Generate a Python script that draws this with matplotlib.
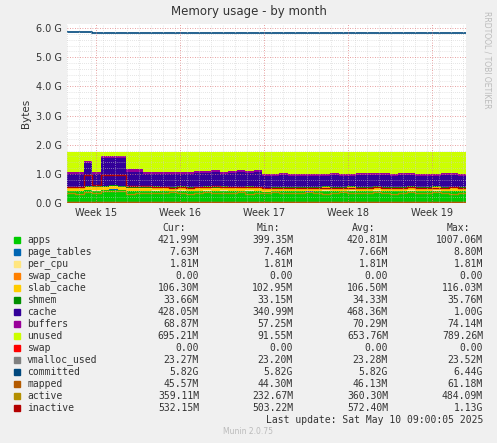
import matplotlib
matplotlib.use("Agg")
import matplotlib.pyplot as plt
import numpy as np

# data (G bytes), 48 samples across the month
used_top = [1.05,1.05,1.45,1.05,1.6,1.6,1.6,1.15,1.15,1.05,1.07,1.05,1.08,1.08,1.05,1.1,1.1,1.12,1.05,1.1,1.12,1.1,1.12,1.0,1.0,1.02,0.98,1.0,0.98,0.99,1.0,1.02,1.0,0.98,1.03,1.02,1.04,1.02,1.0,1.03,1.02,1.0,1.0,1.01,1.02,1.03,1.0,1.02]
apps = [0.40,0.40,0.43,0.42,0.45,0.46,0.44,0.40,0.41,0.40,0.42,0.41,0.40,0.42,0.41,0.40,0.42,0.41,0.42,0.40,0.41,0.42,0.40,0.38,0.40,0.41,0.40,0.41,0.39,0.41,0.42,0.40,0.41,0.42,0.40,0.41,0.42,0.40,0.41,0.40,0.42,0.41,0.40,0.42,0.41,0.40,0.41,0.42]
page_tables = 0.0076
per_cpu = 0.0018
swap_cache = 0.0
slab_cache = 0.106
shmem = 0.034
buffers = 0.07
total = 1.75
inactive = [0.55,0.55,0.95,0.62,0.95,0.95,0.95,0.60,0.60,0.58,0.55,0.54,0.53,0.55,0.53,0.56,0.56,0.57,0.55,0.56,0.55,0.56,0.55,0.52,0.50,0.52,0.53,0.52,0.53,0.52,0.53,0.52,0.53,0.52,0.53,0.52,0.54,0.53,0.52,0.53,0.54,0.52,0.53,0.52,0.53,0.54,0.52,0.53]
active = [0.36,0.30,0.38,0.35,0.42,0.42,0.40,0.30,0.33,0.36,0.34,0.36,0.38,0.36,0.30,0.33,0.38,0.36,0.34,0.36,0.38,0.30,0.33,0.36,0.38,0.34,0.33,0.36,0.38,0.33,0.30,0.36,0.38,0.34,0.36,0.33,0.38,0.36,0.30,0.35,0.37,0.33,0.36,0.38,0.34,0.30,0.36,0.36]
committed = [5.85,5.85,5.85,5.82,5.82,5.82,5.82,5.82,5.82,5.82,5.82,5.82,5.82,5.82,5.82,5.82,5.82,5.82,5.82,5.82,5.82,5.82,5.82,5.82,5.82,5.82,5.82,5.82,5.82,5.82,5.82,5.82,5.82,5.82,5.84,5.82,5.82,5.82,5.82,5.82,5.82,5.82,5.82,5.82,5.82,5.82,5.82,5.82]
mapped = 0.046
vmalloc = 0.023
week_labels = ["Week 15","Week 16","Week 17","Week 18","Week 19"]

legend_rows = [
 ("apps","#00CC00","421.99M","399.35M","420.81M","1007.06M"),
 ("page_tables","#0066B3","7.63M","7.46M","7.66M","8.80M"),
 ("per_cpu","#FFE680","1.81M","1.81M","1.81M","1.81M"),
 ("swap_cache","#FF8000","0.00","0.00","0.00","0.00"),
 ("slab_cache","#FFCC00","106.30M","102.95M","106.50M","116.03M"),
 ("shmem","#008F00","33.66M","33.15M","34.33M","35.76M"),
 ("cache","#330099","428.05M","340.99M","468.36M","1.00G"),
 ("buffers","#990099","68.87M","57.25M","70.29M","74.14M"),
 ("unused","#CCFF00","695.21M","91.55M","653.76M","789.26M"),
 ("swap","#FF0000","0.00","0.00","0.00","0.00"),
 ("vmalloc_used","#808080","23.27M","23.20M","23.28M","23.52M"),
 ("committed","#00487D","5.82G","5.82G","5.82G","6.44G"),
 ("mapped","#B35A00","45.57M","44.30M","46.13M","61.18M"),
 ("active","#B38F00","359.11M","232.67M","360.30M","484.09M"),
 ("inactive","#B30000","532.15M","503.22M","572.40M","1.13G"),
]

n = len(used_top)
x = np.linspace(0, 33.25, n)
apps = np.array(apps); used_top = np.array(used_top)
small = page_tables + per_cpu + swap_cache + slab_cache + shmem
cache = used_top - buffers - apps - small

fig = plt.figure(figsize=(4.97, 4.43), dpi=100, facecolor="#F0F0F0")
ax = fig.add_axes([67/497, 1-203/443, 399/497, 179/443])
ax.set_facecolor("white")
layers = [(apps,"#00CC00"),(np.full(n,page_tables),"#0066B3"),(np.full(n,per_cpu),"#FFE680"),
          (np.full(n,swap_cache),"#FF8000"),(np.full(n,slab_cache),"#FFCC00"),(np.full(n,shmem),"#008F00"),
          (cache,"#330099"),(np.full(n,buffers),"#990099"),(total-used_top,"#CCFF00")]
base = np.zeros(n)
for v, c in layers:
    ax.fill_between(x, base, base+v, color=c, step="post", lw=0)
    base = base+v
ax.step(x, np.full(n, vmalloc), where="post", color="#808080", lw=1)
ax.step(x, committed, where="post", color="#00487D", lw=1.2)
ax.step(x, np.full(n, mapped), where="post", color="#B35A00", lw=1)
ax.step(x, active, where="post", color="#B38F00", lw=1)
ax.step(x, inactive, where="post", color="#B30000", lw=1)

ax.set_xlim(0, 33.25); ax.set_ylim(0, 6.14)
ticks = [2.4 + 7*i for i in range(5)]
ax.set_xticks(ticks); ax.set_xticklabels(week_labels, fontsize=7, color="#333333")
ax.set_yticks(np.arange(0, 7, 1.0))
ax.set_yticklabels([f"{v:.1f} G" for v in np.arange(0, 7, 1.0)], fontsize=7, color="#333333")
ax.set_yticks(np.arange(0, 6.1, 0.2), minor=True)
ax.set_xticks(np.arange(0, 33.3, 1.0), minor=True)
ax.grid(which="minor", color="#CCCCCC", ls=(0,(1,2)), lw=0.5)
ax.grid(which="major", color="#E08080", ls=(0,(1,2)), lw=0.6)
ax.set_axisbelow(False)
ax.tick_params(which="both", length=0)
for s in ax.spines.values(): s.set_visible(False)
ax.set_ylabel("Bytes", fontsize=7.5, color="#333333")
fig.text(0.5, 1-11/443, "Memory usage - by month", ha="center", va="center", fontsize=8.5, color="#333333")
fig.text(487/497, 1-60/443, "RRDTOOL / TOBI OETIKER", rotation=270, ha="center", va="center", fontsize=5.5, color="#BBBBBB")

mono = "DejaVu Sans Mono"
fs = 7
hy = 228
for lab, xr in [("Cur:",186),("Min:",280),("Avg:",375),("Max:",470)]:
    fig.text(xr/497, 1-hy/443, lab, ha="right", va="center", family=mono, fontsize=fs, color="#333333")
for i, (name, col, cur, mn, av, mx) in enumerate(legend_rows):
    y = 240 + 12*i
    fig.patches.append(plt.Rectangle((14/497, 1-(y+3)/443), 6/497, 6/443, transform=fig.transFigure, color=col))
    fig.text(27/497, 1-y/443, name, ha="left", va="center", family=mono, fontsize=fs, color="#333333")
    for v, xr in [(cur,199),(mn,293),(av,388),(mx,483)]:
        fig.text(xr/497, 1-y/443, v, ha="right", va="center", family=mono, fontsize=fs, color="#333333")
fig.text(483/497, 1-420/443, "Last update: Sat May 10 09:00:05 2025", ha="right", va="center", family=mono, fontsize=fs, color="#333333")
fig.text(248/497, 1-432/443, "Munin 2.0.75", ha="center", va="center", fontsize=5.5, color="#BBBBBB")
fig.savefig("out.png", dpi=100, facecolor=fig.get_facecolor())
